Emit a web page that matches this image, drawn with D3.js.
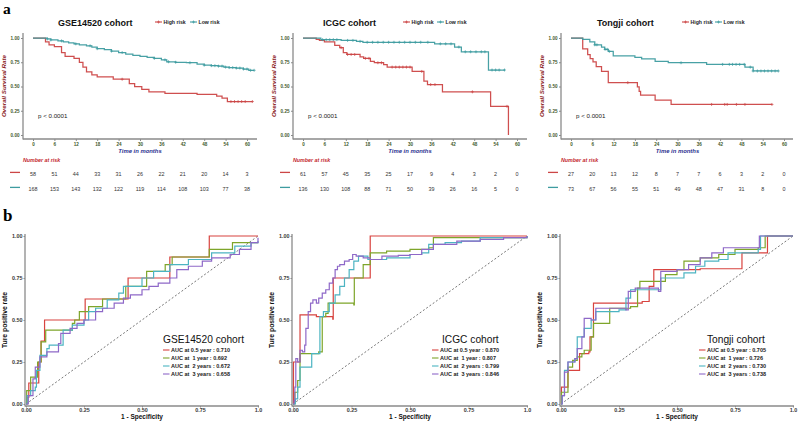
<!DOCTYPE html>
<html><head><meta charset="utf-8">
<script src="https://cdn.jsdelivr.net/npm/d3@7"></script>
<style>
body{margin:0;background:#fff}
svg{display:block;font-family:"Liberation Sans",Arial,sans-serif}
</style>
</head><body>
<svg id="c" width="798" height="421"></svg>
<script>
// ---------------- DATA ----------------
const kmXTicks = [0,6,12,18,24,30,36,42,48,54,60];
const kmYTicks = [0,0.25,0.5,0.75,1];
const rocTicks = [0,0.25,0.5,0.75,1];
const rocTickLabels = ["0.00","0.25","0.50","0.75","1.0"];
const rocYTickLabels = ["0.00","0.25","0.50","0.75","1.00"];
const riskGroups = ["High risk","Low risk"];
const rocLabels = ["AUC at 0.5 year : ","AUC at  1 year : ","AUC at  2 years : ","AUC at  3 years : "];
const cohorts = ["GSE14520 cohort","ICGC cohort","Tongji cohort"];

// GSE14520 KM
const gseHighTime = [0,3.5,4.5,6,8,9,11.5,13,14,15,16.5,18,22.5,27,28.5,30.5,32.5,37,46,51.5,53,54.5,61.5];
const gseHighSurv = [1,0.96,0.93,0.91,0.85,0.81,0.79,0.75,0.70,0.65,0.62,0.60,0.575,0.53,0.50,0.47,0.445,0.43,0.42,0.40,0.38,0.345,0.345];
const gseHighCensor = [25,55.5,56.5,57.5,58.5,59.5,61.5];
const gseLowTime = [0,4,5,7,8.5,10,11.5,13,15,16.5,18,20,22,24,26,28,30,32,34,36,37.5,40,43,46,48,50,52,53.5,55,57,59,60.5,62];
const gseLowSurv = [1,0.99,0.98,0.97,0.96,0.95,0.94,0.93,0.92,0.905,0.89,0.88,0.865,0.85,0.835,0.82,0.81,0.80,0.79,0.775,0.755,0.75,0.745,0.73,0.72,0.715,0.71,0.70,0.695,0.69,0.68,0.667,0.667];
const gseLowCensor = [4,5,8,12,16,18,22,25,34,37,38,40,44,48,50,51,52,53,54,55,56,57,58,59,60,61,62];
const gseRiskHigh = [58,51,44,33,31,26,22,21,20,14,3];
const gseRiskLow = [168,153,143,132,122,119,114,108,103,77,38];

// ICGC KM
const icgcHighTime = [0,3.7,4.6,6,8.9,10.3,11.3,12.3,16,17,18.9,20,22.6,23.6,30.6,33.9,34.9,39.1,52.6,57.6];
const icgcHighSurv = [1,0.985,0.975,0.96,0.925,0.90,0.85,0.83,0.805,0.79,0.76,0.745,0.725,0.70,0.655,0.555,0.52,0.445,0.295,0];
const icgcHighCensor = [10.7,12.5,13.5,14.5,17.5,18.5,21,22,25,26,27,28,29,30,33.3,35.8,37,47.5,57.2];
const icgcLowTime = [0,5,10.7,15,16.8,36.9,42.5,44.4,52,56.6];
const icgcLowSurv = [1,0.983,0.975,0.965,0.956,0.94,0.907,0.858,0.67,0.67];
const icgcLowCensor = [5.5,6.5,7.5,8.5,9.5,12.5,14,16,18,19.5,21,22.5,24,25.5,27,28.5,30,31.5,33,35,38.5,40,41.5,43.7,45.5,47,48.5,50,51,53,54,55,56.5];
const icgcRiskHigh = [61,57,45,35,25,17,9,4,3,2,0];
const icgcRiskLow = [136,130,108,88,71,50,39,26,16,5,0];

// Tongji KM
const tjHighTime = [0,3.3,4.7,5.4,6.2,7.1,8.6,10.5,18.7,19.2,19.6,23.7,28.2,56.6];
const tjHighSurv = [1,0.887,0.828,0.787,0.753,0.706,0.656,0.54,0.495,0.45,0.41,0.36,0.315,0.315];
const tjHighCensor = [16,39.6,43.3,44,46.6,49,56.6];
const tjLowTime = [0,3.3,5.3,6.7,8.6,9.5,10.5,11.9,18,19.9,23.7,27.4,38.2,49,51.3,58.4];
const tjLowSurv = [1,0.986,0.96,0.93,0.907,0.883,0.862,0.815,0.80,0.785,0.76,0.745,0.728,0.70,0.66,0.66];
const tjLowCensor = [6.7,7.3,9.6,10.2,10.8,31,42.7,44.6,45.5,46.5,47.5,48.8,50.5,51.3,52.5,53.5,54.5,55.5,56.5,57.5,58.4];
const tjRiskHigh = [27,20,13,12,8,7,7,6,3,2,0];
const tjRiskLow = [73,67,56,55,51,49,48,47,31,8,0];

// ROC curves: [1-specificity, true positive rate]
const gseRoc05 = [[0,0],[0.005,0.04],[0.012,0.125],[0.055,0.25],[0.065,0.375],[0.08,0.5],[0.255,0.625],[0.44,0.75],[0.62,0.875],[0.79,1],[1,1]];
const gseRoc1 = [[0,0],[0.003,0.08],[0.02,0.16],[0.05,0.25],[0.065,0.37],[0.085,0.44],[0.2,0.48],[0.21,0.5],[0.23,0.55],[0.27,0.58],[0.33,0.625],[0.43,0.7],[0.52,0.79],[0.6,0.83],[0.63,0.875],[0.79,0.92],[0.89,0.96],[1,0.96]];
const gseRoc2 = [[0,0],[0.005,0.05],[0.02,0.08],[0.04,0.1],[0.045,0.2],[0.06,0.29],[0.09,0.33],[0.1,0.35],[0.16,0.44],[0.2,0.47],[0.25,0.5],[0.27,0.55],[0.3,0.57],[0.35,0.62],[0.4,0.66],[0.42,0.7],[0.5,0.75],[0.55,0.79],[0.62,0.83],[0.7,0.86],[0.8,0.9],[0.9,0.94],[0.97,0.96],[1,0.97]];
const gseRoc3 = [[0,0],[0.01,0.05],[0.03,0.15],[0.04,0.22],[0.06,0.28],[0.09,0.31],[0.14,0.36],[0.15,0.42],[0.19,0.45],[0.22,0.48],[0.25,0.5],[0.3,0.55],[0.33,0.57],[0.38,0.6],[0.42,0.63],[0.45,0.65],[0.5,0.68],[0.53,0.7],[0.57,0.72],[0.62,0.75],[0.65,0.8],[0.7,0.82],[0.76,0.85],[0.8,0.87],[0.88,0.89],[0.92,0.92],[0.97,0.96],[1,0.99]];
const gseAuc = ["0.710","0.692","0.672","0.658"];

const icgcRoc05 = [[0,0],[0.002,0.25],[0.03,0.53],[0.1,0.52],[0.17,0.505],[0.172,0.75],[0.33,1],[1,1]];
const icgcRoc1 = [[0,0],[0.008,0.07],[0.02,0.14],[0.03,0.3],[0.11,0.31],[0.125,0.52],[0.14,0.54],[0.15,0.6],[0.26,0.59],[0.262,0.75],[0.3,0.83],[0.33,0.9],[0.4,0.91],[0.5,0.92],[0.58,0.93],[0.6,0.99],[1,1]];
const icgcRoc2 = [[0,0],[0.01,0.03],[0.02,0.1],[0.03,0.22],[0.08,0.3],[0.115,0.52],[0.13,0.55],[0.155,0.6],[0.18,0.65],[0.2,0.7],[0.22,0.75],[0.24,0.8],[0.26,0.85],[0.28,0.88],[0.32,0.86],[0.4,0.87],[0.5,0.89],[0.55,0.9],[0.58,0.95],[0.65,0.96],[0.72,0.97],[0.8,0.99],[1,1]];
const icgcRoc3 = [[0,0],[0.005,0.02],[0.008,0.1],[0.012,0.27],[0.02,0.25],[0.03,0.32],[0.04,0.31],[0.05,0.35],[0.055,0.45],[0.065,0.55],[0.075,0.6],[0.085,0.62],[0.1,0.6],[0.11,0.63],[0.125,0.66],[0.14,0.68],[0.155,0.72],[0.17,0.75],[0.18,0.8],[0.19,0.82],[0.2,0.83],[0.22,0.85],[0.24,0.86],[0.255,0.89],[0.27,0.88],[0.3,0.87],[0.33,0.86],[0.38,0.88],[0.45,0.885],[0.5,0.89],[0.55,0.92],[0.6,0.95],[0.7,0.97],[0.8,0.98],[0.9,0.99],[1,1]];
const icgcAuc = ["0.870","0.807","0.799","0.846"];

const tjRoc05 = [[0,0],[0.002,0.1],[0.03,0.2],[0.08,0.3],[0.12,0.31],[0.125,0.4],[0.14,0.6],[0.35,0.61],[0.38,0.7],[0.4,0.8],[0.55,0.8],[0.6,0.805],[0.78,0.9],[0.89,1],[1,1]];
const tjRoc1 = [[0,0],[0.002,0.07],[0.03,0.22],[0.05,0.26],[0.07,0.28],[0.09,0.3],[0.1,0.32],[0.13,0.4],[0.14,0.48],[0.21,0.57],[0.3,0.58],[0.33,0.69],[0.34,0.73],[0.45,0.77],[0.5,0.8],[0.53,0.85],[0.6,0.87],[0.68,0.89],[0.75,0.92],[0.85,0.93],[0.88,1],[1,1]];
const tjRoc2 = [[0,0],[0.005,0.05],[0.015,0.2],[0.03,0.25],[0.06,0.27],[0.07,0.4],[0.1,0.45],[0.13,0.5],[0.15,0.55],[0.25,0.56],[0.28,0.63],[0.3,0.68],[0.43,0.75],[0.53,0.78],[0.58,0.82],[0.62,0.85],[0.68,0.86],[0.72,0.9],[0.85,0.92],[0.86,1],[1,1]];
const tjRoc3 = [[0,0],[0.005,0.05],[0.015,0.19],[0.03,0.25],[0.06,0.27],[0.07,0.33],[0.09,0.4],[0.1,0.51],[0.13,0.5],[0.15,0.57],[0.28,0.56],[0.29,0.67],[0.32,0.69],[0.42,0.67],[0.43,0.79],[0.5,0.8],[0.55,0.83],[0.6,0.87],[0.65,0.9],[0.7,0.93],[0.85,0.93],[0.855,1],[1,1]];
const tjAuc = ["0.705","0.726","0.730","0.738"];

// ---------------- STYLE ----------------
const KM_RED = "#cc4646", KM_TEAL = "#3e9ca0";
const ROC_COLORS = ["#d8433f","#7ea52a","#4cb4c2","#8e68c8"];
const TICK_GREEN = "#3f5a2c";

const svg = d3.select("#c");

// panel letters
svg.append("text").attr("x",3).attr("y",14).attr("font-family","'Liberation Serif',serif").attr("font-weight","bold").attr("font-size",15.5).text("a");
svg.append("text").attr("x",3).attr("y",221).attr("font-family","'Liberation Serif',serif").attr("font-weight","bold").attr("font-size",17).text("b");

function stepAt(times, surv, t){
  let v = surv[0];
  for(let i=0;i<times.length;i++){ if(times[i] <= t) v = surv[i]; }
  return v;
}

function kmPanel(cfg, L){
  const g = svg.append("g");
  const x = d3.scaleLinear().domain([0,60]).range([L.x0, L.x60]);
  const y = d3.scaleLinear().domain([0,1]).range([135, 38]);
  const axisCol = "#8a8a8a";
  g.append("line").attr("x1",L.ax).attr("x2",L.ax).attr("y1",33).attr("y2",139.5).attr("stroke",axisCol).attr("stroke-width",1.3);
  g.append("line").attr("x1",L.ax).attr("x2",L.xe).attr("y1",139).attr("y2",139).attr("stroke",axisCol).attr("stroke-width",1.3);

  const ya = g.append("g").attr("transform",`translate(${L.ax},0)`)
    .call(d3.axisLeft(y).tickValues(kmYTicks).tickFormat(d3.format(".2f")).tickSize(2).tickPadding(1.5));
  ya.select(".domain").remove();
  ya.selectAll(".tick line").attr("stroke",axisCol);
  ya.selectAll(".tick text").attr("font-size",4.6).attr("font-weight","bold").attr("fill",TICK_GREEN).attr("font-family","'Liberation Sans',Arial,sans-serif");

  const xa = g.append("g").attr("transform",`translate(0,139)`)
    .call(d3.axisBottom(x).tickValues(kmXTicks).tickSize(2).tickPadding(2));
  xa.select(".domain").remove();
  xa.selectAll(".tick line").attr("stroke",axisCol);
  xa.selectAll(".tick text").attr("font-size",4.6).attr("font-weight","bold").attr("fill",TICK_GREEN).attr("font-family","'Liberation Sans',Arial,sans-serif");

  g.append("text").attr("transform",`translate(${L.ax-17},86) rotate(-90)`).attr("text-anchor","middle")
    .attr("font-size",6.2).attr("font-weight","bold").attr("font-style","italic").attr("fill","#8b1c1c").text("Overall Survival Rate");
  g.append("text").attr("x",(L.x0+L.x60)/2).attr("y",153).attr("text-anchor","middle")
    .attr("font-size",5.9).attr("font-weight","bold").attr("font-style","italic").attr("fill","#2a2f8f").text("Time in months");

  const line = d3.line().curve(d3.curveStepAfter).x(d=>x(d[0])).y(d=>y(d[1]));
  const series = [
    {t:cfg.highT, s:cfg.highS, c:cfg.highC, col:KM_RED},
    {t:cfg.lowT, s:cfg.lowS, c:cfg.lowC, col:KM_TEAL}
  ];
  series.forEach(se=>{
    const pts = se.t.map((t,i)=>[t, se.s[i]]);
    g.append("path").datum(pts).attr("d",line).attr("fill","none").attr("stroke",se.col).attr("stroke-width",1.25).attr("stroke-opacity",0.95);
    g.append("g").selectAll("path").data(se.c).join("path")
      .attr("d",t=>{const px=x(t), py=y(stepAt(se.t,se.s,t)); return `M${px-1.5},${py}h3M${px},${py-1.5}v3`;})
      .attr("stroke",se.col).attr("stroke-width",0.7).attr("fill","none");
  });

  g.append("text").attr("x",L.x0+5).attr("y",118).attr("font-size",6.2).attr("fill","#222").text("p < 0.0001");

  g.append("text").attr("x",L.tx).attr("y",26).attr("font-size",9).attr("font-weight","bold").attr("fill","#111").text(cfg.title);
  [KM_RED, KM_TEAL].forEach((col,i)=>{
    const lx = L.lx[i];
    g.append("line").attr("x1",lx).attr("x2",lx+7).attr("y1",22).attr("y2",22).attr("stroke",col).attr("stroke-width",1.1);
    g.append("path").attr("d",`M${lx+2},22h3M${lx+3.5},20.5v3`).attr("stroke",col).attr("stroke-width",0.7);
    g.append("text").attr("x",lx+8.5).attr("y",23.8).attr("font-size",5.2).attr("font-weight","bold").attr("fill","#222").text(riskGroups[i]);
  });

  g.append("text").attr("x",L.ax).attr("y",162).attr("font-size",5.3).attr("font-weight","bold").attr("font-style","italic").attr("fill","#c3262c").text("Number at risk");
  [[cfg.riskH, KM_RED, 176],[cfg.riskL, KM_TEAL, 191]].forEach(([arr,col,yy])=>{
    g.append("line").attr("x1",L.ax-13).attr("x2",L.ax-3).attr("y1",yy-3.6).attr("y2",yy-3.6).attr("stroke",col).attr("stroke-width",1.3);
    g.append("g").selectAll("text").data(arr).join("text")
      .attr("x",(d,i)=>x(kmXTicks[i])).attr("y",yy).attr("text-anchor","middle")
      .attr("font-size",5.4).attr("fill","#333").text(d=>d);
  });
}

kmPanel({title:cohorts[0], highT:gseHighTime, highS:gseHighSurv, highC:gseHighCensor, lowT:gseLowTime, lowS:gseLowSurv, lowC:gseLowCensor, riskH:gseRiskHigh, riskL:gseRiskLow},
  {ax:23, x0:33, x60:247, xe:257, tx:58, lx:[155,190]});
kmPanel({title:cohorts[1], highT:icgcHighTime, highS:icgcHighSurv, highC:icgcHighCensor, lowT:icgcLowTime, lowS:icgcLowSurv, lowC:icgcLowCensor, riskH:icgcRiskHigh, riskL:icgcRiskLow},
  {ax:293, x0:303, x60:517, xe:527, tx:323, lx:[403,437]});
kmPanel({title:cohorts[2], highT:tjHighTime, highS:tjHighSurv, highC:tjHighCensor, lowT:tjLowTime, lowS:tjLowSurv, lowC:tjLowCensor, riskH:tjRiskHigh, riskL:tjRiskLow},
  {ax:561, x0:571, x60:784, xe:793, tx:597, lx:[682,715]});

// ---------------- ROC ----------------
function rocPanel(curves, auc, title, L){
  const g = svg.append("g");
  const x = d3.scaleLinear().domain([0,1]).range([L.x0, L.x1]);
  const y = d3.scaleLinear().domain([0,1]).range([404, 236]);
  const axisCol = "#8a8a8a";
  g.append("line").attr("x1",L.ax).attr("x2",L.ax).attr("y1",234).attr("y2",406.5).attr("stroke",axisCol).attr("stroke-width",1.3);
  g.append("line").attr("x1",L.ax).attr("x2",L.x1+1).attr("y1",406).attr("y2",406).attr("stroke",axisCol).attr("stroke-width",1.3);

  const ya = g.append("g").attr("transform",`translate(${L.ax},0)`)
    .call(d3.axisLeft(y).tickValues(rocTicks).tickFormat((d,i)=>rocYTickLabels[i]).tickSize(1.5).tickPadding(1));
  ya.select(".domain").remove();
  ya.selectAll(".tick line").attr("stroke",axisCol);
  ya.selectAll(".tick text").attr("font-size",5.4).attr("font-weight","bold").attr("fill","#3a3a3a").attr("font-family","'Liberation Sans',Arial,sans-serif");

  const xa = g.append("g").attr("transform",`translate(0,406)`)
    .call(d3.axisBottom(x).tickValues(rocTicks).tickFormat((d,i)=>rocTickLabels[i]).tickSize(1.5).tickPadding(0.5));
  xa.select(".domain").remove();
  xa.selectAll(".tick line").attr("stroke",axisCol);
  xa.selectAll(".tick text").attr("font-size",5.4).attr("font-weight","bold").attr("fill","#3a3a3a").attr("font-family","'Liberation Sans',Arial,sans-serif");

  g.append("text").attr("transform",`translate(${L.ax-18},320) rotate(-90)`).attr("text-anchor","middle")
    .attr("font-size",6.8).attr("font-weight","bold").attr("fill","#111").text("Ture positive rate");
  g.append("text").attr("x",(L.x0+L.x1)/2).attr("y",418.5).attr("text-anchor","middle")
    .attr("font-size",6.5).attr("font-weight","bold").attr("fill","#111").text("1 - Specificity");

  g.append("line").attr("x1",x(0)).attr("y1",y(0)).attr("x2",x(1)).attr("y2",y(1))
    .attr("stroke","#555").attr("stroke-width",0.8).attr("stroke-dasharray","2,2");

  const line = d3.line().curve(d3.curveStepAfter).x(d=>x(d[0])).y(d=>y(d[1]));
  curves.forEach((c,i)=>{
    g.append("path").datum(c).attr("d",line).attr("fill","none").attr("stroke",ROC_COLORS[i]).attr("stroke-width",1.2);
  });

  g.append("text").attr("x",L.tx).attr("y",343).attr("font-size",10.2).attr("fill","#111").text(title);
  curves.forEach((c,i)=>{
    const yy = 350 + i*8;
    g.append("line").attr("x1",L.lx).attr("x2",L.lx+6.5).attr("y1",yy).attr("y2",yy).attr("stroke",ROC_COLORS[i]).attr("stroke-width",1.1);
    g.append("text").attr("x",L.lx+8).attr("y",yy+2).attr("font-size",5.5).attr("font-weight","bold").attr("fill","#222")
      .style("white-space","pre").text(rocLabels[i] + auc[i]);
  });
}

rocPanel([gseRoc05,gseRoc1,gseRoc2,gseRoc3], gseAuc, cohorts[0], {ax:25, x0:26, x1:258, tx:163, lx:163});
rocPanel([icgcRoc05,icgcRoc1,icgcRoc2,icgcRoc3], icgcAuc, cohorts[1], {ax:292, x0:293, x1:527, tx:442, lx:432});
rocPanel([tjRoc05,tjRoc1,tjRoc2,tjRoc3], tjAuc, cohorts[2], {ax:560, x0:561, x1:793, tx:707, lx:699});
</script>
</body></html>
